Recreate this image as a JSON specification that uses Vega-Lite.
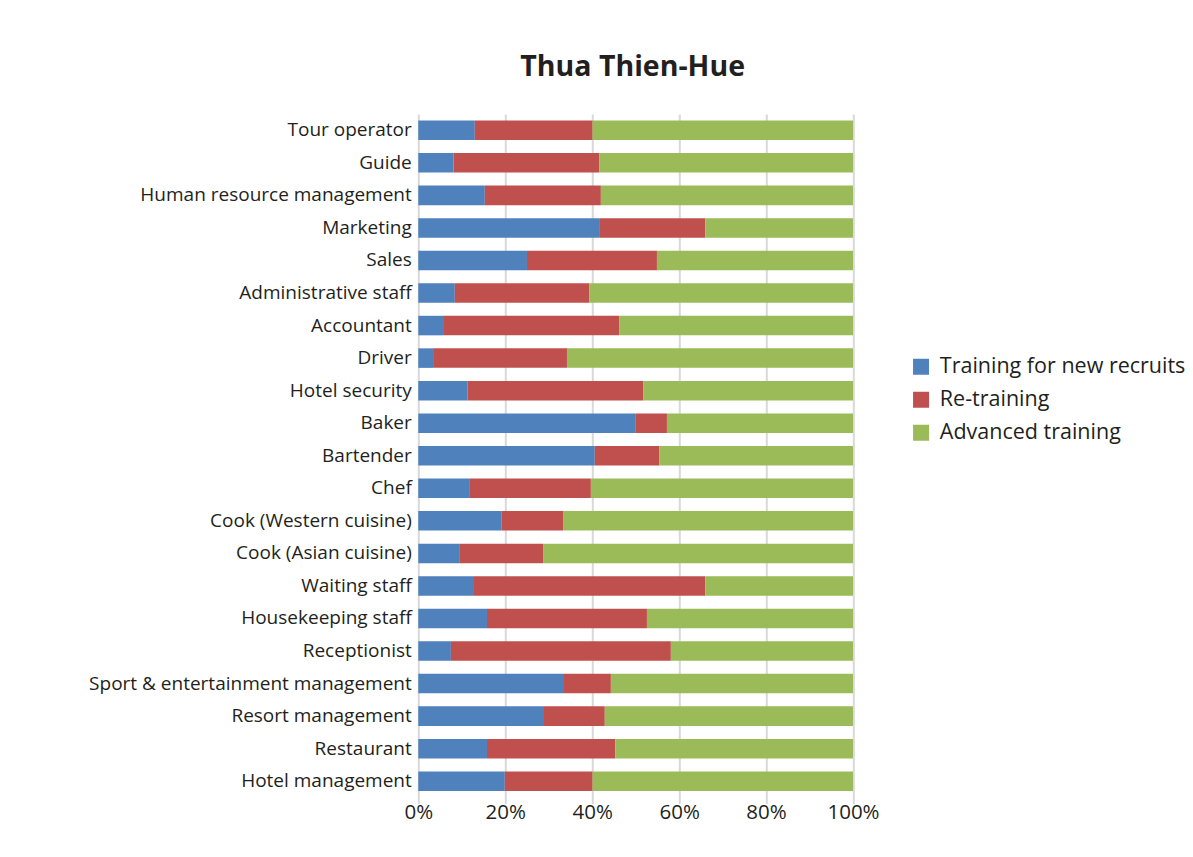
{
  "$schema": "https://vega.github.io/schema/vega-lite/v6.json",
  "width": 434.7,
  "height": 683.5,
  "autosize": "none",
  "padding": {"left": 418.3, "top": 114, "right": 340, "bottom": 59.5},
  "background": "white",
  "config": {
    "font": "Open Sans",
    "view": {"stroke": null}
  },
  "title": {
    "text": "Thua Thien-Hue",
    "fontSize": 28.5,
    "fontWeight": "bold",
    "font": "Open Sans",
    "color": "#231f20",
    "anchor": "middle",
    "dx": -3,
    "offset": 33
  },
  "data": {
    "values": [
      {"job": "Tour operator", "Training for new recruits": 13.0, "Re-training": 27.1, "Advanced training": 59.9},
      {"job": "Guide", "Training for new recruits": 8.1, "Re-training": 33.5, "Advanced training": 58.4},
      {"job": "Human resource management", "Training for new recruits": 15.3, "Re-training": 26.7, "Advanced training": 58.0},
      {"job": "Marketing", "Training for new recruits": 41.6, "Re-training": 24.4, "Advanced training": 34.0},
      {"job": "Sales", "Training for new recruits": 25.0, "Re-training": 29.9, "Advanced training": 45.1},
      {"job": "Administrative staff", "Training for new recruits": 8.4, "Re-training": 30.9, "Advanced training": 60.7},
      {"job": "Accountant", "Training for new recruits": 5.7, "Re-training": 40.5, "Advanced training": 53.8},
      {"job": "Driver", "Training for new recruits": 3.4, "Re-training": 30.8, "Advanced training": 65.8},
      {"job": "Hotel security", "Training for new recruits": 11.3, "Re-training": 40.5, "Advanced training": 48.2},
      {"job": "Baker", "Training for new recruits": 49.9, "Re-training": 7.3, "Advanced training": 42.8},
      {"job": "Bartender", "Training for new recruits": 40.6, "Re-training": 14.8, "Advanced training": 44.6},
      {"job": "Chef", "Training for new recruits": 11.7, "Re-training": 28.0, "Advanced training": 60.3},
      {"job": "Cook (Western cuisine)", "Training for new recruits": 19.2, "Re-training": 14.1, "Advanced training": 66.7},
      {"job": "Cook (Asian cuisine)", "Training for new recruits": 9.4, "Re-training": 19.3, "Advanced training": 71.3},
      {"job": "Waiting staff", "Training for new recruits": 12.6, "Re-training": 53.4, "Advanced training": 34.0},
      {"job": "Housekeeping staff", "Training for new recruits": 15.8, "Re-training": 36.8, "Advanced training": 47.4},
      {"job": "Receptionist", "Training for new recruits": 7.5, "Re-training": 50.6, "Advanced training": 41.9},
      {"job": "Sport & entertainment management", "Training for new recruits": 33.3, "Re-training": 11.0, "Advanced training": 55.7},
      {"job": "Resort management", "Training for new recruits": 28.7, "Re-training": 14.2, "Advanced training": 57.1},
      {"job": "Restaurant", "Training for new recruits": 15.8, "Re-training": 29.5, "Advanced training": 54.7},
      {"job": "Hotel management", "Training for new recruits": 19.9, "Re-training": 20.2, "Advanced training": 59.9}
    ]
  },
  "transform": [
    {"fold": ["Training for new recruits", "Re-training", "Advanced training"], "as": ["type", "value"]}
  ],
  "mark": {"type": "bar"},
  "encoding": {
    "y": {
      "field": "job",
      "type": "nominal",
      "sort": null,
      "scale": {"paddingInner": 0.4, "paddingOuter": 0.2},
      "axis": {
        "title": null,
        "domain": false,
        "ticks": false,
        "labelFontSize": 19,
        "labelColor": "#231f20",
        "labelPadding": 7,
        "labelLimit": 400
      }
    },
    "x": {
      "field": "value",
      "type": "quantitative",
      "stack": "normalize",
      "scale": {"domain": [0, 1], "nice": false},
      "axis": {
        "title": null,
        "format": ".0%",
        "values": [0, 0.2, 0.4, 0.6, 0.8, 1],
        "domain": false,
        "grid": true,
        "gridColor": "#d9d9d9",
        "gridWidth": 2,
        "ticks": true,
        "tickColor": "#d9d9d9",
        "tickWidth": 2,
        "tickSize": 6,
        "labelFontSize": 20.5,
        "labelColor": "#231f20",
        "labelPadding": -1,
        "labelFlush": false
      }
    },
    "color": {
      "field": "type",
      "type": "nominal",
      "sort": ["Training for new recruits", "Re-training", "Advanced training"],
      "scale": {
        "domain": ["Training for new recruits", "Re-training", "Advanced training"],
        "range": ["#4f81bd", "#c0504d", "#9bbb59"]
      },
      "legend": {
        "title": null,
        "orient": "none",
        "legendX": 492,
        "legendY": 242,
        "symbolType": "square",
        "symbolSize": 256,
        "symbolStrokeWidth": 0,
        "labelFontSize": 21.5,
        "labelColor": "#231f20",
        "labelOffset": 8,
        "rowPadding": 10,
        "labelLimit": 400
      }
    },
    "order": {"field": "type", "type": "nominal", "sort": "descending"}
  }
}
